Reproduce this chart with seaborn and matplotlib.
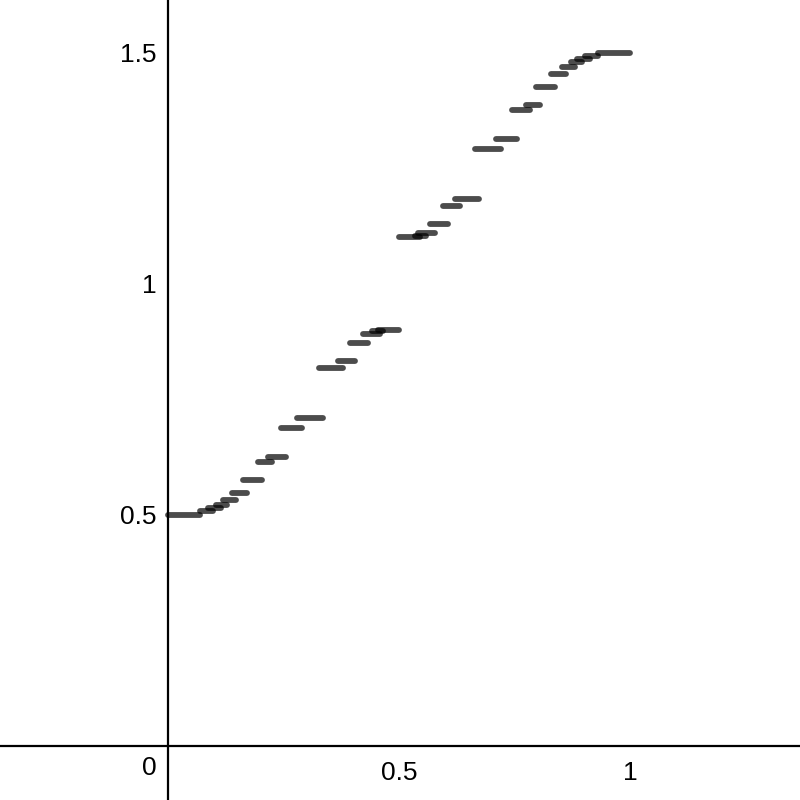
import numpy as np
import pandas as pd
import seaborn as sns
import matplotlib
matplotlib.use("Agg")
import matplotlib.pyplot as plt

# Horizontal dash segments of the staircase curve (start x, end x, level y)
seg_x0 = [0.000, 0.069, 0.087, 0.104, 0.119, 0.139, 0.162, 0.195, 0.216,
          0.245, 0.279, 0.327, 0.368, 0.394, 0.422, 0.442, 0.455,
          0.500, 0.535, 0.541, 0.567, 0.595, 0.621, 0.664, 0.710,
          0.745, 0.775, 0.797, 0.829, 0.852, 0.872, 0.885, 0.903, 0.931]
seg_x1 = [0.069, 0.097, 0.115, 0.128, 0.148, 0.171, 0.203, 0.225, 0.255,
          0.290, 0.336, 0.379, 0.405, 0.433, 0.459, 0.465, 0.500,
          0.545, 0.558, 0.578, 0.606, 0.632, 0.673, 0.721, 0.755,
          0.784, 0.805, 0.838, 0.861, 0.881, 0.896, 0.913, 0.931, 1.000]
seg_y = [0.500, 0.5065, 0.513, 0.5206, 0.531, 0.5476, 0.5747, 0.6136, 0.6234,
         0.687, 0.709, 0.817, 0.832, 0.871, 0.891, 0.897, 0.900,
         1.100, 1.103, 1.109, 1.129, 1.168, 1.183, 1.291, 1.313,
         1.3766, 1.3864, 1.4253, 1.4524, 1.469, 1.4794, 1.487, 1.4935, 1.500]

x_ticks = [0.5, 1]
x_tick_labels = ["0.5", "1"]
y_ticks = [0.5, 1, 1.5]
y_tick_labels = ["0.5", "1", "1.5"]

rows = []
for i, (a, b, y) in enumerate(zip(seg_x0, seg_x1, seg_y)):
    rows.append({"seg": i, "x": a, "y": y})
    rows.append({"seg": i, "x": b, "y": y})
df = pd.DataFrame(rows)

sns.set_theme(style="white")
plt.rcParams["font.family"] = ["Liberation Sans", "DejaVu Sans"]

fig = plt.figure(figsize=(8, 8), dpi=100)
ax = fig.add_axes([0, 0, 1, 1])

sns.lineplot(data=df, x="x", y="y", units="seg", estimator=None,
             color="black", lw=4.2, alpha=0.7, ax=ax, legend=False,
             sort=False)
for ln in ax.lines:
    ln.set_solid_capstyle("round")

ax.set_xlim(-168 / 462, 632 / 462)
ax.set_ylim(-(800 - 745.5) / 462, 745.5 / 462)

for s in ["top", "right"]:
    ax.spines[s].set_visible(False)
ax.spines["left"].set_position(("data", 0))
ax.spines["bottom"].set_position(("data", 0))
for s in ["left", "bottom"]:
    ax.spines[s].set_color("black")
    ax.spines[s].set_linewidth(1.6)
    ax.spines[s].set_visible(True)

ax.set_xticks(x_ticks)
ax.set_xticklabels(x_tick_labels, fontsize=19)
ax.set_yticks(y_ticks)
ax.set_yticklabels(y_tick_labels, fontsize=19)
ax.tick_params(axis="x", length=0, pad=11, colors="black")
ax.tick_params(axis="y", length=0, pad=8, colors="black")
ax.text(-0.024, -0.022, "0", fontsize=19, ha="right", va="top", color="black")
ax.set_xlabel("")
ax.set_ylabel("")
ax.grid(False)

fig.savefig("out.png", dpi=100)
